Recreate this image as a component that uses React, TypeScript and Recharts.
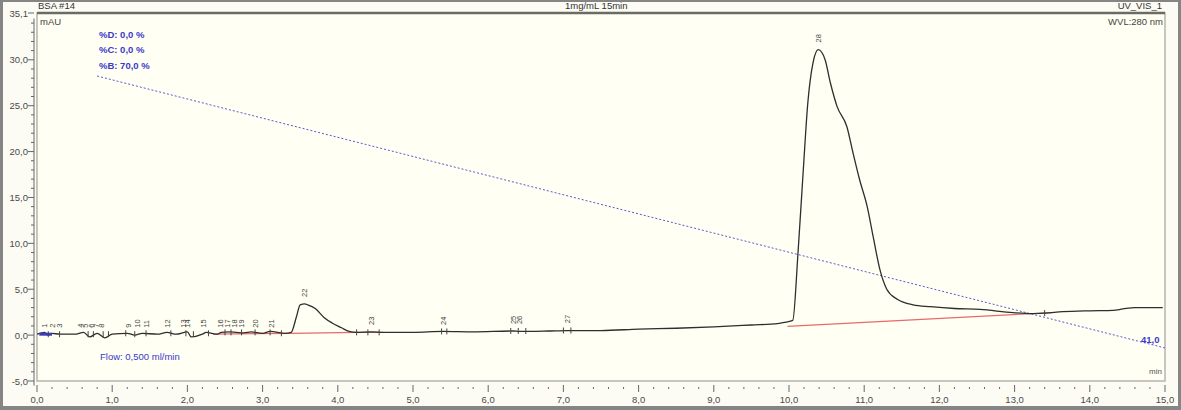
import React from "react";
import {
  ComposedChart,
  Line,
  XAxis,
  YAxis,
  Scatter,
  ReferenceArea,
  ReferenceLine,
} from "recharts";

// ---------- data ----------
const traceTimes = [
  0.0, 0.1, 0.15, 0.2, 0.3, 0.5, 0.62, 0.7, 0.8, 0.9, 1.0, 1.2, 1.3, 1.4, 1.6,
  1.73, 1.85, 2.0, 2.05, 2.2, 2.25, 2.4, 2.45, 2.55, 2.65, 2.75, 2.85, 3.0, 3.1,
  3.3, 3.38, 3.45, 3.5, 3.56, 3.6, 3.7, 3.82, 3.93, 4.05, 4.15, 4.25, 4.45, 4.6,
  5.0, 5.4, 5.8, 6.33, 6.42, 6.8, 7.05, 7.5, 8.0, 8.5, 9.0, 9.5, 9.85, 9.95,
  10.05, 10.12, 10.19, 10.25, 10.32, 10.39, 10.48, 10.55, 10.64, 10.77, 10.85,
  10.94, 11.04, 11.12, 11.21, 11.3, 11.44, 11.65, 11.88, 12.2, 12.54, 12.98,
  13.24, 13.4, 13.64, 14.0, 14.31, 14.44, 14.6, 14.97,
];
const traceValues = [
  0.1, 0.3, 0.0, 0.2, 0.1, 0.1, 0.3, -0.2, 0.2, -0.3, 0.1, 0.2, 0.0, 0.2, 0.1,
  0.3, 0.1, 0.35, -0.2, 0.1, 0.3, 0.1, 0.3, 0.35, 0.3, 0.25, 0.35, 0.2, 0.4,
  0.2, 0.3, 2.0, 3.3, 3.4, 3.3, 2.9, 1.9, 1.3, 0.8, 0.4, 0.3, 0.35, 0.3,
  0.3, 0.4, 0.35, 0.45, 0.4, 0.45, 0.5, 0.5, 0.65, 0.75, 0.9, 1.1, 1.25, 1.4,
  1.6, 9.0, 18.0, 25.3, 29.7, 31.1, 30.0, 27.5, 24.9, 22.7, 19.9,
  16.9, 14.0, 10.7, 7.1, 5.0, 3.9, 3.3, 3.1, 2.9, 2.8, 2.45,
  2.35, 2.4, 2.55, 2.65, 2.7, 2.85, 3.0, 3.0,
];

const baseline1Times = [2.34, 3.38, 4.25, 4.6];
const baseline1Values = [0.1, 0.2, 0.3, 0.3];
const baseline2Times = [9.98, 13.5];
const baseline2Values = [0.95, 2.45];

const gradientTimes = [0.8, 15.0];
const gradientPercentB = [70, 41];

const eventTimes = [0.03, 0.2];
const eventValues = [0.1, 0.1];

const peakTimes = [
  0.1, 0.2, 0.3, 0.58, 0.65, 0.72, 0.79, 0.86, 1.22, 1.34, 1.45, 1.73, 1.95,
  2.0, 2.21, 2.44, 2.53, 2.62, 2.72, 2.9, 3.12, 3.56, 4.45, 5.4, 6.33, 6.42,
  7.05, 10.39,
];
const peakNames = [
  "1", "2", "3", "4", "5", "6", "7", "8", "9", "10", "11", "12", "13", "14",
  "15", "16", "17", "18", "19", "20", "21", "22", "23", "24", "25", "26", "27",
  "28",
];
const peakLabelBase = [
  0.8, 0.8, 0.8, 0.8, 0.8, 0.8, 0.8, 0.8, 0.8, 0.8, 0.8, 0.8, 0.8, 0.8, 0.8,
  0.8, 0.8, 0.8, 0.8, 0.8, 0.8, 4.15, 1.1, 1.1, 1.2, 1.2, 1.3, 31.9,
];

const markerTimes = [
  0.15, 0.3, 0.68, 0.75, 0.88, 0.95, 1.18, 1.3, 1.45, 1.78, 1.98, 2.08, 2.28,
  2.5, 2.58, 2.72, 2.9, 3.1, 3.25, 4.25, 4.4, 4.55, 5.38, 5.45, 6.3, 6.4, 6.5,
  7.0, 7.1, 13.4,
];
const markerValues = [
  0.1, 0.1, 0.1, 0.1, 0.1, 0.1, 0.2, 0.1, 0.2, 0.2, 0.2, 0.1, 0.2,
  0.3, 0.3, 0.3, 0.3, 0.3, 0.2, 0.3, 0.3, 0.3, 0.4, 0.4, 0.45, 0.45, 0.45,
  0.5, 0.5, 2.4,
];

const xMajorTicks = [0, 1, 2, 3, 4, 5, 6, 7, 8, 9, 10, 11, 12, 13, 14, 15];
const xTickLabels = [
  "0,0", "1,0", "2,0", "3,0", "4,0", "5,0", "6,0", "7,0", "8,0", "9,0",
  "10,0", "11,0", "12,0", "13,0", "14,0", "15,0",
];
const yMajorTicks = [-5, 0, 5, 10, 15, 20, 25, 30, 35.1];
const yTickLabels = ["-5,0", "0,0", "5,0", "10,0", "15,0", "20,0", "25,0", "30,0", "35,1"];

// ---------- derived tables ----------
const traceData = traceTimes.map((t, i) => ({ t, v: traceValues[i] }));
const base1Data = baseline1Times.map((t, i) => ({ t, v: baseline1Values[i] }));
const base2Data = baseline2Times.map((t, i) => ({ t, v: baseline2Values[i] }));
const gradData = gradientTimes.map((t, i) => ({ t, b: gradientPercentB[i] }));
const eventData = eventTimes.map((t, i) => ({ t, v: eventValues[i] }));
const peakData = peakTimes.map((t, i) => ({ t, v: peakLabelBase[i], name: peakNames[i] }));
const markerData = markerTimes.map((t, i) => ({ t, v: markerValues[i] }));

const xMinor: number[] = [];
for (let i = 0; i <= 75; i++) xMinor.push(Math.round(i * 2) / 10);
const yMinor: number[] = [];
for (let i = -5; i <= 34; i++) yMinor.push(i);
yMinor.push(35.1);

const FONT = '"Liberation Sans", Arial, sans-serif';
const AXIS_TXT = "#4a4a4a";
const Y_AXIS_WIDTH = 37;

const XTick = (props: any) => {
  const { x, y, payload } = props;
  const v = payload.value;
  const idx = xMajorTicks.findIndex((m) => Math.abs(m - v) < 1e-6);
  const major = idx >= 0;
  return (
    <g>
      <line x1={x} x2={x} y1={y + (major ? 4 : 6)} y2={y + (major ? 11 : 8)} stroke="#666" strokeWidth={1} />
      {major && (
        <text x={x} y={y + 22} textAnchor="middle" fontSize={9.5} fontFamily={FONT} fill={AXIS_TXT}>
          {xTickLabels[idx]}
        </text>
      )}
    </g>
  );
};

const YTick = (props: any) => {
  const { y, payload } = props;
  const x = Y_AXIS_WIDTH;
  const v = payload.value;
  const idx = yMajorTicks.findIndex((m) => Math.abs(m - v) < 1e-6);
  const major = idx >= 0;
  return (
    <g>
      {v < 35 && <line x1={x - 3} x2={x - 3} y1={y - 4.6} y2={y + 4.6} stroke="#666" strokeWidth={1} />}
      <line x1={major ? x - 9 : x - 6} x2={x - 3} y1={y} y2={y} stroke="#666" strokeWidth={1} />
      {major && (
        <text x={x - 9} y={y + 3.5} textAnchor="end" fontSize={9.5} fontFamily={FONT} fill={AXIS_TXT}>
          {yTickLabels[idx]}
        </text>
      )}
    </g>
  );
};

const PeakLabel = (props: any) => {
  const { cx, cy, payload } = props;
  if (cx == null || cy == null) return null;
  return (
    <text
      x={cx + 2.5}
      y={cy}
      transform={`rotate(-90 ${cx + 2.5} ${cy})`}
      textAnchor="start"
      fontSize={7.5}
      fontFamily={FONT}
      fill="#444"
    >
      {payload.name}
    </text>
  );
};

const Marker = (props: any) => {
  const { cx, cy } = props;
  if (cx == null || cy == null) return null;
  return <line x1={cx} x2={cx} y1={cy - 3} y2={cy + 3} stroke="#444" strokeWidth={1} />;
};

const txt = (extra: React.CSSProperties): React.CSSProperties => ({
  position: "absolute",
  fontFamily: FONT,
  fontSize: 9.5,
  lineHeight: "10px",
  whiteSpace: "nowrap",
  ...extra,
});

export default function App() {
  return (
    <div style={{ position: "relative", width: 1181, height: 410, background: "#FCFCF4", overflow: "hidden" }}>
      <style>{"body{margin:0}"}</style>
      <ComposedChart width={1181} height={410} margin={{ top: 13, right: 16, bottom: 0, left: 0 }}>
        <XAxis
          type="number"
          dataKey="t"
          domain={[0, 15]}
          ticks={xMinor}
          interval={0}
          tick={<XTick />}
          tickLine={false}
          axisLine={false}
          tickSize={0}
          tickMargin={0}
          height={29}
          allowDataOverflow
        />
        <YAxis
          yAxisId="mau"
          type="number"
          domain={[-5, 35.1]}
          ticks={yMinor}
          interval={0}
          tick={<YTick />}
          tickLine={false}
          axisLine={false}
          tickSize={0}
          tickMargin={0}
          width={Y_AXIS_WIDTH}
          allowDataOverflow
        />
        <YAxis yAxisId="grad" type="number" domain={[37.48, 76.72]} hide allowDataOverflow />
        <ReferenceArea
          yAxisId="mau"
          x1={0}
          x2={15}
          y1={-5}
          y2={35.1}
          fill="#FFFFF3"
          fillOpacity={1}
          stroke="#b5b5ad"
          strokeWidth={1.5}
        />
        <ReferenceLine yAxisId="mau" y={35.1} stroke="#6b6b66" strokeWidth={2.5} />
        <Line
          yAxisId="grad"
          data={gradData}
          dataKey="b"
          type="linear"
          dot={false}
          stroke="#5a5ad0"
          strokeWidth={1}
          strokeDasharray="2 2"
          isAnimationActive={false}
        />
        <Line
          yAxisId="mau"
          data={base1Data}
          dataKey="v"
          type="linear"
          dot={false}
          stroke="#e86a6a"
          strokeWidth={1.2}
          isAnimationActive={false}
        />
        <Line
          yAxisId="mau"
          data={base2Data}
          dataKey="v"
          type="linear"
          dot={false}
          stroke="#e86a6a"
          strokeWidth={1.2}
          isAnimationActive={false}
        />
        <Line
          yAxisId="mau"
          data={traceData}
          dataKey="v"
          type="monotone"
          dot={false}
          stroke="#2e2e2e"
          strokeWidth={1.3}
          isAnimationActive={false}
        />
        <Line
          yAxisId="mau"
          data={eventData}
          dataKey="v"
          type="linear"
          dot={false}
          stroke="#3a3ac0"
          strokeWidth={3}
          isAnimationActive={false}
        />
        <Scatter yAxisId="mau" data={markerData} dataKey="v" shape={<Marker />} isAnimationActive={false} />
        <Scatter yAxisId="mau" data={peakData} dataKey="v" shape={<PeakLabel />} isAnimationActive={false} />
      </ComposedChart>

      {/* header */}
      <div style={txt({ left: 38, top: 1, color: "#333" })}>BSA #14</div>
      <div style={txt({ left: 565, top: 1, color: "#333" })}>1mg/mL 15min</div>
      <div style={txt({ right: 19, top: 1, color: "#333" })}>UV_VIS_1</div>
      {/* plot annotations */}
      <div style={txt({ left: 40, top: 17, color: "#444" })}>mAU</div>
      <div style={txt({ right: 18, top: 17, color: "#444" })}>WVL:280 nm</div>
      <div style={txt({ right: 19, top: 367, color: "#555", fontSize: 8 })}>min</div>
      <div style={txt({ left: 99, top: 30, color: "#3a3ac8", fontWeight: "bold" })}>%D: 0,0 %</div>
      <div style={txt({ left: 99, top: 45, color: "#3a3ac8", fontWeight: "bold" })}>%C: 0,0 %</div>
      <div style={txt({ left: 99, top: 61, color: "#3a3ac8", fontWeight: "bold" })}>%B: 70,0 %</div>
      <div style={txt({ left: 100, top: 352, color: "#3a3ac8" })}>Flow: 0,500 ml/min</div>
      <div style={txt({ left: 1141, top: 335, color: "#3a3ac8", fontWeight: "bold" })}>41,0</div>

      {/* outer frame */}
      <div
        style={{
          position: "absolute",
          inset: 0,
          borderStyle: "solid",
          borderColor: "#858585",
          borderWidth: "2px 3px 4px 3px",
          boxSizing: "border-box",
          pointerEvents: "none",
        }}
      />
    </div>
  );
}
